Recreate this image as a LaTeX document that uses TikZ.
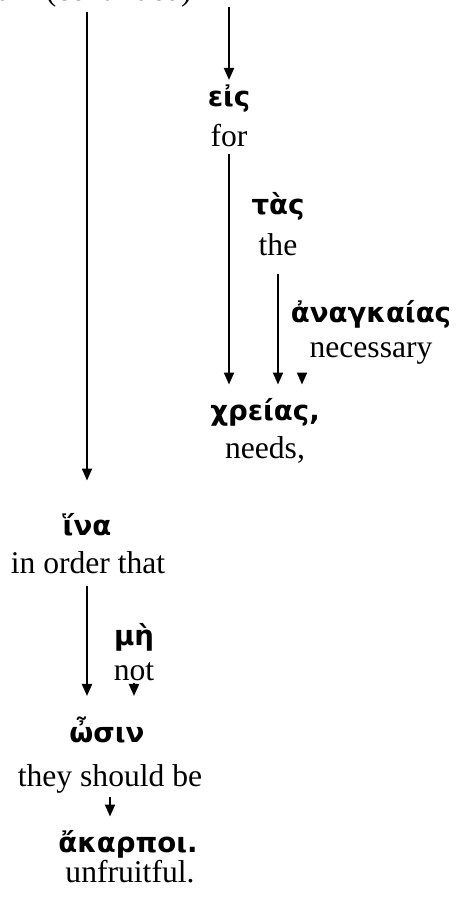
\documentclass[tikz,border=0pt]{standalone}
\usepackage{fontspec}
\setmainfont{Liberation Serif}
\newfontfamily\greekfont{DejaVu Sans}
\usetikzlibrary{arrows.meta}
\tikzset{
  gk/.style = {font=\greekfont\bfseries\fontsize{13.8}{16}\selectfont, inner sep=0pt, anchor=base},
  en/.style = {font=\fontsize{15.8}{19}\selectfont, inner sep=0pt, anchor=base},
  arr/.style = {-{Triangle[length=6pt,width=5pt]}, line width=1pt},
}
\begin{document}
\begin{tikzpicture}[x=0.5pt, y=-0.5pt]
        \useasboundingbox (0, 0) rectangle (455, 899);
        \node[en, anchor = south east](learn) at (192, 8){learn (continued)};
        \coordinate(above) at (229, 7);
        % for the necessary needs
        \node[gk](eis) at (229, 107){εἰς};
        \node[en](for) at (229, 147){for};
        \node[gk](tas) at (278, 214){τὰς};
        \node[en](the) at (278, 255){the};
        \node[gk](anagk) at (371, 322){ἀναγκαίας};
        \node[en](necessary) at (371, 357){necessary};
        \node[gk](xreias) at (265, 420){χρείας,};
        \node[en](needs) at (265, 458){needs,};
        % in order that they should not be unfruitful
        \node[gk](ina) at (87, 535){ἵνα};
        \node[en](inorder) at (88, 573){in order that};
        \node[gk](me) at (134, 645){μὴ};
        \node[en](not) at (134, 680){not};
        \node[gk](osin) at (107, 742){ὦσιν};
        \node[en](should) at (110, 786){they should be};
        \node[gk](akarpoi) at (128, 852){ἄκαρποι.};
        \node[en](unfruitful) at (130, 882){unfruitful.};
        \draw[arr, shorten < = 2pt, shorten > = 16pt] (learn.south -| ina.north) -- (ina.north);
        \draw[arr, shorten > = 2.5pt] (above) -- (eis.north);
        \draw[arr, shorten < = 3pt, shorten > = 6.5pt] (for.south) -- (for.south |- xreias.north);
        \draw[arr, shorten < = 9pt, shorten > = 6.5pt] (the.south) -- (the.south |- xreias.north);
        \draw[arr, shorten < = 5.5pt, shorten > = 6.5pt] ([xshift = -34.5pt]necessary.south) -- ([xshift = -34.5pt]necessary.south |- xreias.north);
        \draw[arr, shorten < = 6pt, shorten > = 10pt] (inorder.south -| ina.south) -- (ina.south |- osin.north);
        \draw[arr, shorten < = 1pt, shorten > = 10pt] (not.south) -- (not.south |- osin.north);
        \draw[arr, shorten < = 2pt, shorten > = 6.5pt] (should.south) -- (should.south |- akarpoi.north);
\end{tikzpicture}
\end{document}
